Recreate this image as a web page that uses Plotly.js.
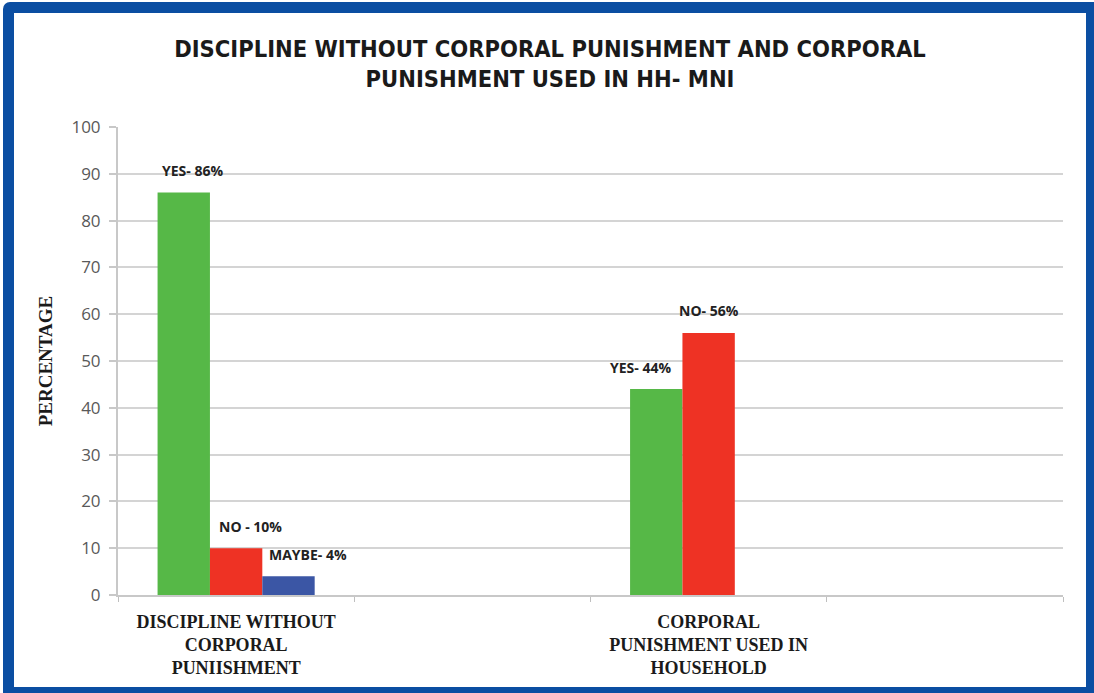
<!DOCTYPE html>
<html>
<head>
<meta charset="utf-8">
<script src="https://cdn.plot.ly/plotly-3.0.1.min.js"></script>
<style>
  html, body { margin: 0; padding: 0; background: #ffffff; width: 1094px; height: 693px; overflow: hidden; }
  #frame { position: absolute; left: 3px; top: 2px; width: 1091px; height: 691px; background: #0b4ea2; border-top-left-radius: 7px; }
  #chart { position: absolute; left: 14px; top: 13px; width: 1072px; height: 674px; background: #ffffff; }
</style>
</head>
<body>
<div id="frame"></div>
<div id="chart"></div>
<script>
// ---- data ----
const categories = [
  "DISCIPLINE WITHOUT<br>CORPORAL<br>PUNIISHMENT",
  " ",
  "CORPORAL<br>PUNISHMENT USED IN<br>HOUSEHOLD",
  "  "
];
const dataCategories = [categories[0], categories[2]];
const seriesNames = ["YES", "NO", "MAYBE"];
const yesValues = [86, 44];
const noValues = [10, 56];
const maybeValues = [4, null];
const yesLabels = ["YES- 86%", "YES- 44%"];
const noLabels = ["NO - 10%", "NO- 56%"];
const maybeLabels = ["MAYBE- 4%", ""];
const yTicks = [0, 10, 20, 30, 40, 50, 60, 70, 80, 90, 100];

const colors = ["#56b847", "#ee3224", "#3b56a5"];
const allValues = [yesValues, noValues, maybeValues];
const allLabels = [yesLabels, noLabels, maybeLabels];
// small label nudges (px) to mimic the original placement
const labelNudge = [[8, -16], [14, 0], [20, 0]];

const traces = allValues.map((vals, i) => ({
  type: "bar",
  name: seriesNames[i],
  x: dataCategories,
  y: vals,
  marker: { color: colors[i], line: { width: 0 } },
  hoverinfo: "x+y"
}));

const barPx = 52;
const annotations = [];
allValues.forEach((vals, i) => {
  vals.forEach((v, j) => {
    if (v === null || !allLabels[i][j]) return;
    annotations.push({
      x: dataCategories[j], y: v, xref: "x", yref: "y",
      text: "<b>" + allLabels[i][j] + "</b>",
      showarrow: false,
      xshift: (i - 1) * barPx + labelNudge[i][j],
      yshift: 22,
      font: { family: "Open Sans, sans-serif", size: 14, color: "#222222" }
    });
  });
});

const layout = {
  width: 1072, height: 674,
  margin: { l: 104, r: 23, t: 114, b: 92 },
  paper_bgcolor: "#ffffff",
  plot_bgcolor: "#ffffff",
  showlegend: false,
  barmode: "group",
  bargap: 0.335,
  bargroupgap: 0,
  title: {
    text: "DISCIPLINE WITHOUT CORPORAL PUNISHMENT AND CORPORAL<br>PUNISHMENT USED IN HH- MNI",
    font: { family: "Liberation Sans Narrow, DejaVu Sans Condensed, Arial Narrow, sans-serif", size: 23.5, color: "#1a1a1a", weight: 700 },
    x: 0.5, xanchor: "center", xref: "container",
    y: 0.935, yanchor: "top", yref: "container"
  },
  xaxis: {
    type: "category",
    categoryorder: "array",
    categoryarray: categories,
    range: [-0.5, 3.5],
    tickson: "boundaries",
    ticks: "outside", ticklen: 5, tickcolor: "#bfbfbf", tickwidth: 1,
    showline: true, linecolor: "#c8c8c8", linewidth: 2,
    showgrid: false,
    ticklabelstandoff: 9,
    tickfont: { family: "Liberation Serif, Times New Roman, serif", size: 18, color: "#1a1a1a", weight: 700 },
    fixedrange: true
  },
  yaxis: {
    range: [0, 100],
    tickvals: yTicks,
    ticks: "outside", ticklen: 7, tickcolor: "#c8c8c8", tickwidth: 2,
    showline: true, linecolor: "#c8c8c8", linewidth: 2,
    showgrid: true, gridcolor: "#d4d4d4", gridwidth: 2,
    zeroline: false,
    ticklabelstandoff: 5,
    tickfont: { family: "Open Sans, sans-serif", size: 17, color: "#595959" },
    title: {
      text: "PERCENTAGE",
      font: { family: "Liberation Serif, Times New Roman, serif", size: 19, color: "#1a1a1a", weight: 700 },
      standoff: 14
    },
    fixedrange: true
  },
  annotations: annotations
};

Plotly.newPlot("chart", traces, layout, { displayModeBar: false, staticPlot: true });
</script>
</body>
</html>
